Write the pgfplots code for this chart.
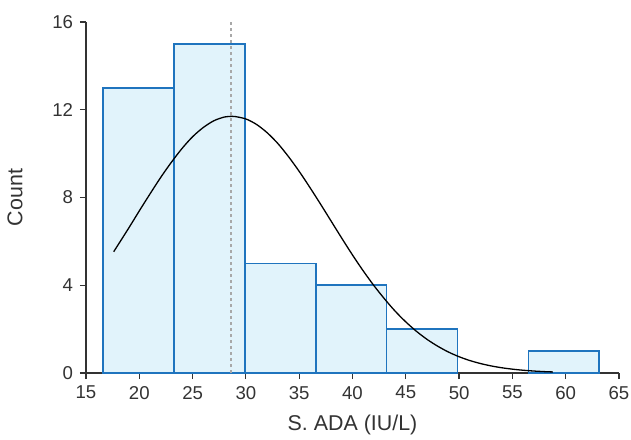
\documentclass[border=0pt]{standalone}
\usepackage{fontspec}
\setmainfont{Liberation Sans}
\usepackage{pgfplots}
\pgfplotsset{compat=1.18}

\definecolor{barfill}{HTML}{E1F3FB}
\definecolor{baredge}{HTML}{1F74BE}
\definecolor{axisgray}{HTML}{333333}
\definecolor{meangray}{HTML}{A8A8A8}

\begin{document}
\begin{tikzpicture}
\useasboundingbox (-43bp,-33.5bp) rectangle (272.5bp,186.5bp);
\begin{axis}[
  scale only axis,
  width=266.5bp,
  height=175.5bp,
  xmin=15, xmax=65,
  ymin=0, ymax=16,
  axis lines*=left,
  axis line style={axisgray, line width=0.6pt},
  xtick={15,20,...,65},
  ytick={0,4,8,12,16},
  tick align=outside,
  major tick length=3bp,
  tick style={axisgray, line width=0.6pt},
  ticklabel style={font=\fontsize{9.3bp}{11bp}\selectfont, text=axisgray},
  label style={font=\fontsize{10.7bp}{12bp}\selectfont, text=axisgray},
  /pgf/number format/assume math mode=true,
  xlabel={S. ADA (IU/L)},
  ylabel={Count},
  ylabel shift=8bp,
  xlabel shift=1bp,
  clip=false,
]
% histogram bins (right edge given as last point)
\addplot[ybar interval, fill=barfill, draw=baredge, line width=0.8bp]
  coordinates {(16.6,13) (23.25,15) (29.9,5) (36.55,4) (43.2,2) (49.85,2)};
\addplot[ybar interval, fill=barfill, draw=baredge, line width=0.8bp]
  coordinates {(56.5,1) (63.15,1)};
% mean line
\addplot[meangray, line width=0.8bp, dash pattern=on 1.5bp off 1.5bp]
  coordinates {(28.6,0) (28.6,16)};
% fitted normal curve
\addplot[black, line width=0.65pt, smooth]
  coordinates {
  (17.6,5.53) (19,6.60) (20,7.39) (21,8.16) (22,8.91) (23,9.60) (24,10.23)
  (25,10.77) (26,11.19) (27,11.50) (28,11.67) (28.7,11.70) (29,11.69)
  (30,11.58) (31,11.33) (32,10.95) (33,10.46) (34,9.86) (35,9.19) (36,8.46)
  (37,7.70) (38,6.92) (39,6.14) (40,5.38) (41,4.66) (42,3.99) (43,3.38)
  (44,2.82) (45,2.33) (46,1.90) (47,1.53) (48,1.22) (49,0.956) (50,0.742)
  (51,0.569) (52,0.432) (53,0.323) (54,0.239) (55,0.175) (56,0.126)
  (57,0.090) (58,0.063) (58.8,0.048)};
\end{axis}
\end{tikzpicture}
\end{document}
